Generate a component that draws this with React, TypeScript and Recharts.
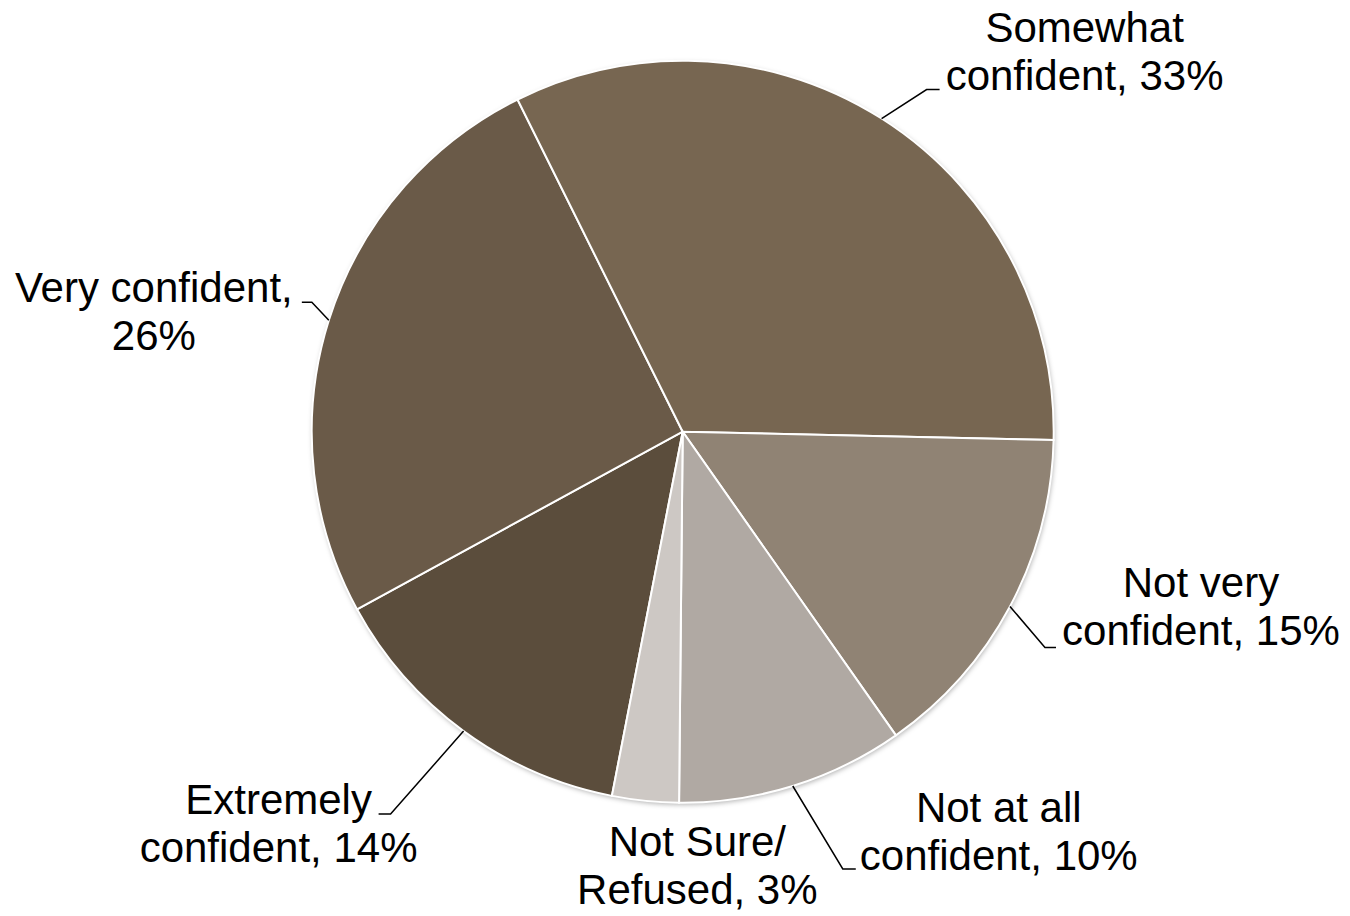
import { Cell, Pie, PieChart } from "recharts";

const categories = [
  "Extremely confident",
  "Very confident",
  "Somewhat confident",
  "Not very confident",
  "Not at all confident",
  "Not Sure/ Refused",
];
const shares = [14.0, 25.6, 32.7, 14.9, 9.9, 2.9];
const colors = ["#5b4d3c", "#6a5a48", "#776651", "#908374", "#b0a9a3", "#cdc8c4"];

const data = categories.map((name, i) => ({ name, value: shares[i] }));
const backing = [{ name: "rim", value: 1 }];

// where each label sits, relative to the spot where the slice's mid-angle meets the rim
const labelLayout = [
  { dx: -185, dy: 83, words: 1, leader: [[-73, 83], [-85, 83]] },
  { dx: -175, dy: -18, words: 2, leader: [[-17, -18], [-27, -18]] },
  { dx: 203, dy: -77, words: 1, leader: [[45, -29], [58, -29]] },
  { dx: 191, dy: -9, words: 2, leader: [[35, 41], [46, 41]] },
  { dx: 206, dy: 36, words: 3, leader: [[50, 83], [63, 83]] },
  { dx: 52, dy: 55, words: 2, leader: null },
];

const FONT = '"Liberation Sans", Arial, sans-serif';
const LINE_H = 48;
const RAD = Math.PI / 180;

function renderLabel(props: any) {
  const { cx, cy, midAngle, outerRadius, index } = props;
  const ex = cx + outerRadius * Math.cos(-midAngle * RAD);
  const ey = cy + outerRadius * Math.sin(-midAngle * RAD);
  const lay = labelLayout[index];
  const words = `${categories[index]}, ${Math.round(shares[index])}%`.split(" ");
  const line1 = words.slice(0, lay.words).join(" ");
  const line2 = words.slice(lay.words).join(" ");
  const pts = lay.leader
    ? [[0, 0], ...lay.leader].map(([x, y]) => `${ex + x},${ey + y}`).join(" ")
    : null;
  return (
    <g key={`lbl-${index}`}>
      {pts && <polyline points={pts} fill="none" stroke="#000" strokeWidth={1.5} />}
      <text
        x={ex + lay.dx}
        y={ey + lay.dy}
        textAnchor="middle"
        fontFamily={FONT}
        fontSize={42}
        fill="#000"
      >
        <tspan x={ex + lay.dx} dy={0}>
          {line1}
        </tspan>
        <tspan x={ex + lay.dx} dy={LINE_H}>
          {line2}
        </tspan>
      </text>
    </g>
  );
}

export default function App() {
  return (
    <div style={{ position: "relative" }}>
      <svg width={0} height={0} style={{ position: "absolute" }}>
        <defs>
          <filter id="pieShadow" x="-10%" y="-10%" width="120%" height="120%">
            <feDropShadow dx={1} dy={2} stdDeviation={2.5} floodColor="#000" floodOpacity={0.3} />
          </filter>
        </defs>
      </svg>
      <PieChart width={1342} height={908} margin={{ top: 0, right: 0, bottom: 0, left: 0 }}>
        <Pie
          data={backing}
          dataKey="value"
          cx={674.7}
          cy={423.7}
          outerRadius={371}
          startAngle={90}
          endAngle={-270}
          stroke="none"
          isAnimationActive={false}
          label={false}
          labelLine={false}
        >
          <Cell fill="#ffffff" filter="url(#pieShadow)" />
        </Pie>
        <Pie
          data={data}
          dataKey="value"
          nameKey="name"
          cx={674.7}
          cy={423.7}
          outerRadius={371}
          startAngle={259}
          endAngle={-101}
          stroke="#ffffff"
          strokeWidth={2}
          isAnimationActive={false}
          labelLine={false}
          label={renderLabel}
        >
          {data.map((d, i) => (
            <Cell key={d.name} fill={colors[i]} />
          ))}
        </Pie>
      </PieChart>
    </div>
  );
}
